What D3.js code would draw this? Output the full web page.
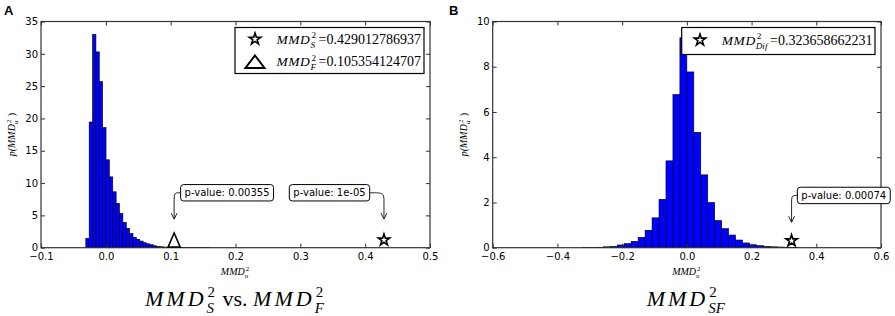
<!DOCTYPE html>
<html><head><meta charset="utf-8">
<script src="https://cdn.jsdelivr.net/npm/d3@7"></script>
<style>
body{margin:0;background:#fff;}
svg{display:block;}
.tick text{font-family:"DejaVu Sans",sans-serif;font-size:10px;fill:#000;}
.math text{font-family:"Liberation Serif",serif;fill:#000;white-space:pre;}
</style></head><body>
<svg id="chart" width="895" height="316"></svg>
<script>
// ---------- data ----------
const leftDensity = [1.45,19.45,33.0,30.3,25.7,18.6,13.6,10.96,8.65,6.85,5.3,3.9,3.0,2.2,1.6,1.3,1.03,0.77,0.6,0.46,0.3,0.2,0.15,0.1,0.07,0.05,0.04,0.03,0.02,0.02,0.015,0.01,0.01,0.01,0.005,0.005,0.005];
const leftBinStart = -0.0309;
const leftBinWidth = 0.0052;
const rightDensity = [0.01,0.015,0.02,0.04,0.06,0.12,0.18,0.28,0.46,0.77,1.32,2.14,3.84,6.77,9.28,7.77,5.10,3.22,2.0,1.2,0.84,0.56,0.34,0.21,0.13,0.09,0.06,0.04,0.03,0.02,0.01];
const rightBinStart = -0.3225;
const rightBinWidth = 0.0215;
const leftXTicks = [-0.1,0,0.1,0.2,0.3,0.4,0.5];
const leftYTicks = [0,5,10,15,20,25,30,35];
const rightXTicks = [-0.6,-0.4,-0.2,0,0.2,0.4,0.6];
const rightYTicks = [0,2,4,6,8,10];
const leftObservedNames = ['S','F'];
const leftObserved = [0.429012786937, 0.105354124707];
const leftObservedLabels = ['0.429012786937','0.105354124707'];
const leftObservedShapes = ['star','triangle'];
const leftMarkerY = [1.2, 1.2];
const leftPValues = ['1e-05','0.00355'];
const rightObservedNames = ['Dif'];
const rightObserved = [0.323658662231];
const rightObservedLabels = ['0.323658662231'];
const rightObservedShapes = ['star'];
const rightMarkerY = [0.31];
const rightPValues = ['0.00074'];

// annotation placement (data coordinates of box centre and arrow tip)
const leftAnnotPlace = [{boxX:0.345, boxY:8.5, tipY:4.43},{boxX:0.187, boxY:8.5, tipY:4.43}];
const rightAnnotPlace = [{boxX:0.485, boxY:2.31, tipY:1.125}];

const svg = d3.select('#chart');

function mathText(parent, px, py, segs, size, anchor, rotate) {
  const outer = parent.append('g').attr('class','math')
    .attr('transform', `translate(${px},${py})` + (rotate ? ` rotate(${rotate})` : ''));
  const g = outer.append('g');
  let cx = 0;
  segs.forEach(s => {
    if (s.t !== undefined) {
      const fs = s.size || size;
      const t = g.append('text').attr('x',cx).attr('y',0)
        .style('font-size', fs+'px').style('font-style', s.it?'italic':'normal')
        .style('letter-spacing', (s.ls||0)+'px').text(s.t);
      cx += t.node().getComputedTextLength() + (s.gap||0);
    } else {
      const ss = size*0.68;
      let w = 0;
      if (s.sup) { const t = g.append('text').attr('x',cx+1).attr('y',-size*0.4).style('font-size',ss+'px').text(s.sup); w = Math.max(w,t.node().getComputedTextLength()+1); }
      if (s.sub) { const t = g.append('text').attr('x',cx).attr('y',size*0.3).style('font-size',ss+'px').style('font-style','italic').text(s.sub); w = Math.max(w,t.node().getComputedTextLength()); }
      cx += w + (s.gap!==undefined ? s.gap : size*0.1);
    }
  });
  const off = anchor==='middle' ? -cx/2 : anchor==='end' ? -cx : 0;
  g.attr('transform', `translate(${off},0)`);
  return outer;
}

function markerPath(shape, rx, ry) {
  if (shape === 'star') return d3.symbol(d3.symbolStar, rx*rx/0.8908).call();
  return `M0,${-ry}L${rx},${ry}L${-rx},${ry}Z`;
}

function drawPanel(cfg) {
  const g = svg.append('g');
  const x = d3.scaleLinear().domain(cfg.xDomain).range([cfg.left, cfg.right]);
  const y = d3.scaleLinear().domain(cfg.yDomain).range([cfg.bottom, cfg.top]);

  g.append('g').selectAll('rect').data(cfg.density).join('rect')
    .attr('x', (d,i) => x(cfg.binStart + i*cfg.binWidth))
    .attr('width', (d,i) => x(cfg.binStart + (i+1)*cfg.binWidth) - x(cfg.binStart + i*cfg.binWidth))
    .attr('y', d => y(d)).attr('height', d => y(0) - y(d))
    .attr('fill','#0000ff').attr('stroke','#000').attr('stroke-width',0.6);

  const fmtX = d => (d < -1e-9 ? '\u2212' : '') + Math.abs(d).toFixed(1);
  const ax = g.append('g').style('color','#333');
  ax.append('g').attr('transform',`translate(0,${cfg.bottom})`)
    .call(d3.axisBottom(x).tickValues(cfg.xTicks).tickFormat(fmtX).tickSizeInner(-4).tickSizeOuter(0).tickPadding(5));
  ax.append('g').attr('transform',`translate(0,${cfg.top})`)
    .call(d3.axisTop(x).tickValues(cfg.xTicks).tickFormat('').tickSizeInner(-4).tickSizeOuter(0));
  ax.append('g').attr('transform',`translate(${cfg.left},0)`)
    .call(d3.axisLeft(y).tickValues(cfg.yTicks).tickFormat(d3.format('d')).tickSizeInner(-4).tickSizeOuter(0).tickPadding(3));
  ax.append('g').attr('transform',`translate(${cfg.right},0)`)
    .call(d3.axisRight(y).tickValues(cfg.yTicks).tickFormat('').tickSizeInner(-4).tickSizeOuter(0));
  ax.selectAll('.domain').remove();
  ax.selectAll('.tick line').attr('stroke','#333');
  g.append('rect').attr('x',cfg.left).attr('y',cfg.top).attr('width',cfg.right-cfg.left).attr('height',cfg.bottom-cfg.top)
    .attr('fill','none').attr('stroke','#333').attr('stroke-width',1.2);

  // observed markers
  cfg.observed.forEach((v,i) => {
    const st = cfg.shapes[i]==='star';
    g.append('path').attr('d', st ? markerPath('star',6) : markerPath('triangle',6,7))
      .attr('transform',`translate(${x(v)},${y(cfg.markerY[i])})`)
      .attr('fill','#fff').attr('stroke','#000').attr('stroke-width',1.6).attr('stroke-linejoin','miter');
  });

  // p-value annotations
  cfg.observed.forEach((v,i) => {
    const a = cfg.annot[i];
    const cx = x(a.boxX), cy = y(a.boxY);
    const tx = x(v), ty = y(a.tipY);
    const ag = g.append('g');
    const rect = ag.append('rect');
    const t = ag.append('text').attr('x',cx).attr('y',cy).attr('dy','0.36em').attr('text-anchor','middle')
      .style('font-family','"DejaVu Sans",sans-serif').style('font-size','10px').text('p-value: ' + cfg.pvalues[i]);
    const w = t.node().getComputedTextLength() + 8, h = 16.4;
    rect.attr('x',cx-w/2).attr('y',cy-h/2).attr('width',w).attr('height',h).attr('rx',3)
      .attr('fill','#fff').attr('stroke','#000').attr('stroke-width',1);
    const sx = tx < cx ? cx - w/2 : cx + w/2;
    ag.append('path').attr('d', `M${sx},${cy}C${tx},${cy} ${tx},${cy} ${tx},${cy+10}L${tx},${ty}`)
      .attr('fill','none').attr('stroke','#222').attr('stroke-width',1);
    ag.append('path').attr('d', `M${tx-3},${ty-6}L${tx},${ty}L${tx+3},${ty-6}`)
      .attr('fill','none').attr('stroke','#222').attr('stroke-width',1);
  });

  // legend
  const L = cfg.legend;
  const lx = cfg.right - 6 - L.width, ly = cfg.top + 6;
  const lg = g.append('g');
  lg.append('rect').attr('x',lx).attr('y',ly).attr('width',L.width).attr('height',L.height)
    .attr('fill','#fff').attr('stroke','#000').attr('stroke-width',1.2);
  cfg.observed.forEach((v,i) => {
    const ry = ly + L.rowY + i*22.6;
    const st = cfg.shapes[i]==='star';
    lg.append('path').attr('d', st ? markerPath('star',6) : markerPath('triangle',9.5,6.2))
      .attr('transform',`translate(${lx+L.markerX},${ry})`)
      .attr('fill','#fff').attr('stroke','#000').attr('stroke-width',st?1.6:2);
    mathText(lg, lx+L.textX, ry+4.5, [{t:'MMD', it:true, ls:0.6},{sup:'2', sub:cfg.names[i], gap:2.5},{t:'=' + cfg.labels[i], size:14}], 13.5, 'start');
  });

  // axis labels
  const mid = (cfg.left + cfg.right)/2;
  mathText(g, mid, 275, [{t:'MMD', it:true},{sup:'2', sub:'u'}], 10, 'middle');
  mathText(g, cfg.left-26, (cfg.top+cfg.bottom)/2, [{t:'p(', it:true},{t:'MMD', it:true},{sup:'2', sub:'u'},{t:' )'}], 10, 'middle', -90);
  mathText(g, mid, 306, cfg.title, 22, 'middle');

  svg.append('text').attr('x', cfg.letterX).attr('y', 15).text(cfg.letter)
    .style('font-family','"Liberation Sans",Arial,sans-serif').style('font-weight','bold').style('font-size','13px');
}

drawPanel({
  left:41, right:430, top:21.5, bottom:247.7,
  xDomain:[-0.1,0.5], yDomain:[0,35], xTicks:leftXTicks, yTicks:leftYTicks,
  density:leftDensity, binStart:leftBinStart, binWidth:leftBinWidth,
  observed:leftObserved, names:leftObservedNames, labels:leftObservedLabels, shapes:leftObservedShapes,
  markerY:leftMarkerY, pvalues:leftPValues, annot:leftAnnotPlace,
  legend:{width:189, height:46, markerX:20, textX:41.4, rowY:11.6},
  title:[{t:'MMD', it:true, ls:3},{sup:'2', sub:'S', gap:2},{t:' vs. '},{t:'MMD', it:true, ls:3},{sup:'2', sub:'F'}],
  letter:'A', letterX:4
});
drawPanel({
  left:492.7, right:881, top:21.5, bottom:247.7,
  xDomain:[-0.6,0.6], yDomain:[0,10], xTicks:rightXTicks, yTicks:rightYTicks,
  density:rightDensity, binStart:rightBinStart, binWidth:rightBinWidth,
  observed:rightObserved, names:rightObservedNames, labels:rightObservedLabels, shapes:rightObservedShapes,
  markerY:rightMarkerY, pvalues:rightPValues, annot:rightAnnotPlace,
  legend:{width:193.3, height:27, markerX:18.3, textX:40, rowY:12.5},
  title:[{t:'MMD', it:true, ls:3},{sup:'2', sub:'SF'}],
  letter:'B', letterX:449
});
</script>
</body></html>
